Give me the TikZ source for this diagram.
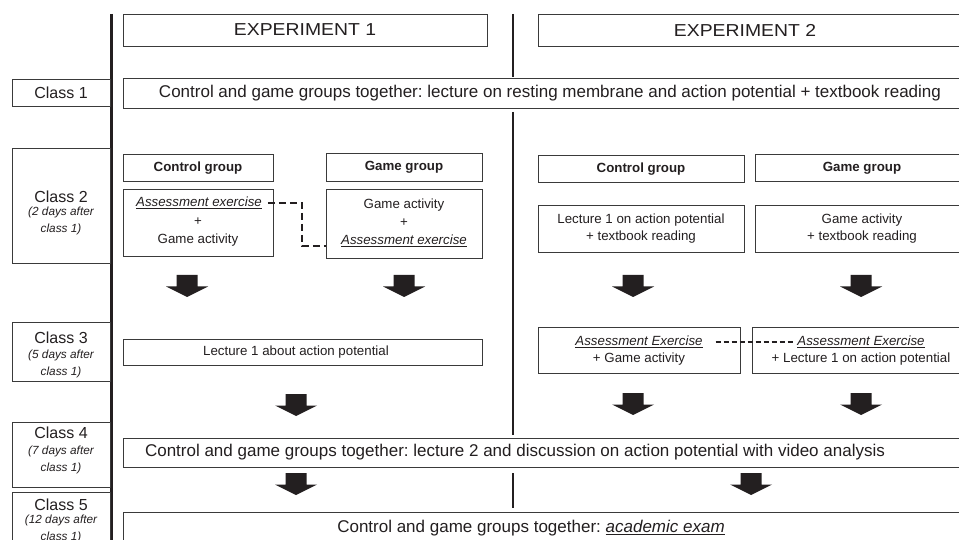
\documentclass[tikz,border=0pt]{standalone}
\usepackage{fontspec}
\setmainfont{Liberation Sans}
\usetikzlibrary{fit}
\definecolor{ink}{HTML}{231F20}
\definecolor{boxc}{HTML}{3A3A3A}
\tikzset{
  box/.style={draw=boxc, line width=0.9pt, rectangle, inner sep=0pt, outer sep=0pt},
  txt/.style={inner sep=0pt, outer sep=0pt, text=ink, align=center, font=\fontsize{13.3}{17}\selectfont},
  bigtxt/.style={txt, font=\fontsize{17}{20}\selectfont},
  hdtxt/.style={txt, font=\fontsize{17.3}{20}\selectfont},
  cls/.style={txt, font=\fontsize{16}{18}\selectfont},
  note/.style={txt, font=\fontsize{11.8}{16.5}\selectfont\itshape},
  grp/.style={txt, font=\fontsize{13.3}{16}\selectfont\bfseries},
  dshA/.style={draw=ink, line width=1.8pt, dash pattern=on 7pt off 4pt},
  dshB/.style={draw=ink, line width=1.5pt, dash pattern=on 5.5pt off 2.5pt},
  pics/blockarrow/.style={code={
    \fill[ink] (-10.5,0) -- (10.5,0) -- (10.5,11.5) -- (21,11.5) -- (0,22) -- (-21,11.5) -- (-10.5,11.5) -- cycle;}}
}
\newcommand{\ulit}[1]{\underline{\textit{#1}}}
\frenchspacing
\begin{document}
\begin{tikzpicture}[x=1pt,y=-1pt]
\useasboundingbox (0,0) rectangle (959,540);
\clip (0,0) rectangle (959,540);
\fill[white] (0,0) rectangle (959,540);

% separators
\draw[ink, line width=2.7pt] (111.4,14) -- (111.4,545);
\draw[ink, line width=1.5pt] (513,14) -- (513,77);
\draw[ink, line width=1.5pt] (513,112) -- (513,435);
\draw[ink, line width=1.5pt] (513,473) -- (513,508);

% header boxes
\node[box, fit={(123,14) (487,46)}] (exp1) {};
\node[box, fit={(538,14) (972,46)}] (exp2) {};
\node[hdtxt] (texp1) at (305,30) {\scalebox{1.12}[1]{EXPERIMENT 1}};
\node[hdtxt] (texp2) at (745,30) {\scalebox{1.12}[1]{EXPERIMENT 2}};

% class 1
\node[box, fit={(12,79) (110,106)}] (c1lab) {};
\node[cls] (tc1lab) at (61,92.5) {Class 1};
\node[box, fit={(123,78) (972,108)}] (c1) {};
\node[bigtxt] (tc1) at (550,93) {Control and game groups together: lecture on resting membrane and action potential + textbook reading};

% class 2
\node[box, fit={(12,148) (110,263)}] (c2lab) {};
\node[cls] (tc2lab) at (61,197) {Class 2};
\node[note] (nc2lab) at (61,221) {(2 days after\\class 1)};

\node[box, fit={(123,154) (273,181)}] (e1cg) {};
\node[grp] (te1cg) at (198,168) {Control group};
\node[box, fit={(326,153) (482,181)}] (e1gg) {};
\node[grp] (te1gg) at (404,167) {Game group};

\node[box, fit={(123,189) (273,256)}] (e1cc) {};
\node[txt] (ae1) at (199,203) {\ulit{Assessment exercise}};
\node[txt] (p1) at (198,222) {+};
\node[txt] (ga1) at (198,240) {Game activity};

\node[box, fit={(326,189) (482,258)}] (e1gc) {};
\node[txt] (ga2) at (404,205) {Game activity};
\node[txt] (p2) at (404,223) {+};
\node[txt] (ae2) at (404,241) {\ulit{Assessment exercise}};

\coordinate (k1) at (302,203);
\coordinate (k2) at (302,246);
\draw[dshA] ([xshift=6pt]ae1.east) -- (k1) -- (k2) -- (e1gc.west |- k2);

\node[box, fit={(538,155) (744,182)}] (e2cg) {};
\node[grp] (te2cg) at (641,169) {Control group};
\node[box, fit={(755,154) (972,181)}] (e2gg) {};
\node[grp] (te2gg) at (862,168) {Game group};

\node[box, fit={(538,205) (744,252)}] (e2cc) {};
\node[txt] (te2cc) at (641,229) {Lecture 1 on action potential\\+ textbook reading};
\node[box, fit={(755,205) (972,252)}] (e2gc) {};
\node[txt] (te2gc) at (862,229) {Game activity\\+ textbook reading};

% arrows class 2 -> 3
\pic (a1) at (187,275) {blockarrow};
\pic (a2) at (404,275) {blockarrow};
\pic (a3) at (633,275) {blockarrow};
\pic (a4) at (861,275) {blockarrow};

% class 3
\node[box, fit={(12,322) (110,381)}] (c3lab) {};
\node[cls] (tc3lab) at (61,338) {Class 3};
\node[note] (nc3lab) at (61,364) {(5 days after\\class 1)};

\node[box, fit={(123,339) (482,365)}] (e1l1) {};
\node[txt] (te1l1) at (296,352) {Lecture 1 about action potential};

\node[box, fit={(538,327) (740,373)}] (e2cc3) {};
\node[txt] (ae3) at (639,342) {\ulit{Assessment Exercise}};
\node[txt] (g3) at (639,359) {+ Game activity};
\node[box, fit={(752,327) (972,373)}] (e2gc3) {};
\node[txt] (ae4) at (861,342) {\ulit{Assessment Exercise}};
\node[txt] (l3) at (861,359) {+ Lecture 1 on action potential};

\draw[dshB] ([xshift=13pt]ae3.east) -- ([xshift=-3pt]ae4.west);

% arrows class 3 -> 4
\pic (a5) at (296,394) {blockarrow};
\pic (a6) at (633,393) {blockarrow};
\pic (a7) at (861,393) {blockarrow};

% class 4
\node[box, fit={(12,422) (110,487)}] (c4lab) {};
\node[cls] (tc4lab) at (61,433) {Class 4};
\node[note] (nc4lab) at (61,460) {(7 days after\\class 1)};
\node[box, fit={(123,438) (972,467)}] (c4) {};
\node[bigtxt] (tc4) at (515,452) {Control and game groups together: lecture 2 and discussion on action potential with video analysis};

% arrows class 4 -> 5
\pic (a8) at (296,473) {blockarrow};
\pic (a9) at (751,473) {blockarrow};

% class 5
\node[box, fit={(12,492) (110,570)}] (c5lab) {};
\node[cls] (tc5lab) at (61,505) {Class 5};
\node[note] (nc5lab) at (61,529) {(12 days after\\class 1)};
\node[box, fit={(123,512) (972,570)}] (c5) {};
\node[bigtxt] (tc5) at (531,528) {Control and game groups together: \ulit{academic exam}};
\end{tikzpicture}
\end{document}
